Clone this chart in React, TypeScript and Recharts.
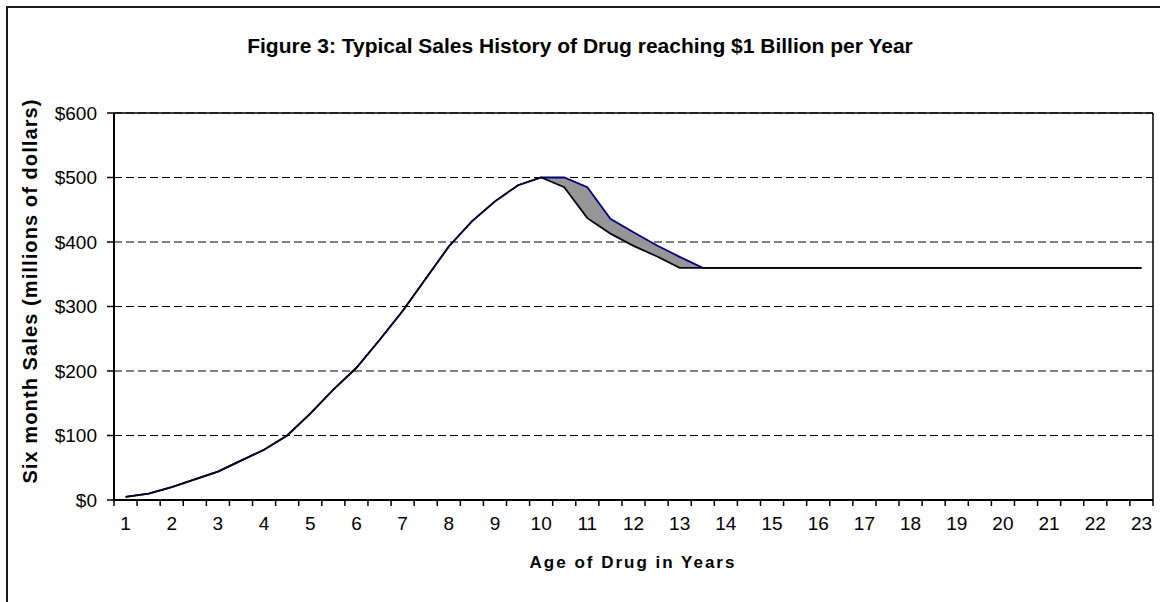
import React from "react";
import { ComposedChart, Area, Line, XAxis, YAxis, CartesianGrid, ReferenceLine } from "recharts";

// age of the drug, in half-year steps
const ages = [
  1, 1.5, 2, 2.5, 3, 3.5, 4, 4.5, 5, 5.5, 6, 6.5, 7, 7.5, 8, 8.5, 9, 9.5, 10,
  10.5, 11, 11.5, 12, 12.5, 13, 13.5, 14, 14.5, 15, 15.5, 16, 16.5, 17, 17.5,
  18, 18.5, 19, 19.5, 20, 20.5, 21, 21.5, 22, 22.5, 23,
];

// six month sales, millions of dollars: lower and upper edge of the post-peak band
const lowSales = [
  5, 10, 20, 32, 44, 61, 78, 100, 134, 171, 205, 248, 293, 343, 393, 432, 463, 488, 500,
  485, 437, 413, 394, 378, 360, 360, 360, 360, 360, 360, 360, 360, 360, 360,
  360, 360, 360, 360, 360, 360, 360, 360, 360, 360, 360,
];
const highSales = [
  5, 10, 20, 32, 44, 61, 78, 100, 134, 171, 205, 248, 293, 343, 393, 432, 463, 488, 500,
  500, 485, 436, 415, 395, 377, 360, 360, 360, 360, 360, 360, 360, 360, 360,
  360, 360, 360, 360, 360, 360, 360, 360, 360, 360, 360,
];

const yearLabels = [1, 2, 3, 4, 5, 6, 7, 8, 9, 10, 11, 12, 13, 14, 15, 16, 17, 18, 19, 20, 21, 22, 23];
const salesTicks = [0, 100, 200, 300, 400, 500, 600];

const data = ages.map((age, i) => ({
  age,
  low: lowSales[i],
  high: highSales[i],
  band: [lowSales[i], highSales[i]],
}));

// tick marks sit on the half-year boundaries, labels on whole years
const boundaryTicks = [...ages.map((a) => a - 0.25), ages[ages.length - 1] + 0.25];
const xTicks = [...boundaryTicks, ...yearLabels].sort((a, b) => a - b);

const FONT = "Arial, 'Liberation Sans', sans-serif";

function AgeTick(props: any) {
  const { x, y, payload } = props;
  const v = payload.value;
  if (Number.isInteger(v)) {
    return (
      <text x={x} y={y + 17} dy="0.71em" textAnchor="middle" fontSize={19} fontFamily={FONT} fill="#000">
        {v}
      </text>
    );
  }
  return <line x1={x} x2={x} y1={y} y2={y + 6} stroke="#000" strokeWidth={1.5} />;
}

export default function App() {
  return (
    <div
      style={{
        position: "absolute",
        left: 0,
        top: 0,
        width: 1160,
        height: 602,
        overflow: "hidden",
        background: "#fff",
        fontFamily: FONT,
      }}
    >
      <div
        style={{
          position: "absolute",
          left: 6,
          top: 6,
          width: 1200,
          height: 700,
          border: "2px solid #1a1a1a",
        }}
      />
      <div
        style={{
          position: "absolute",
          left: 0,
          top: 33,
          width: 1160,
          lineHeight: "26px",
          textAlign: "center",
          fontSize: 21,
          fontWeight: "bold",
        }}
      >
        Figure 3: Typical Sales History of Drug reaching $1 Billion per Year
      </div>
      <div
        style={{
          position: "absolute",
          left: 30 - 240,
          top: 291 - 12,
          width: 480,
          lineHeight: "24px",
          textAlign: "center",
          fontSize: 20,
          fontWeight: "bold",
          letterSpacing: 1.1,
          transform: "rotate(-90deg)",
        }}
      >
        Six month Sales (millions of dollars)
      </div>
      <div
        style={{
          position: "absolute",
          left: 633 - 200,
          top: 551,
          width: 400,
          lineHeight: "24px",
          textAlign: "center",
          fontSize: 17,
          fontWeight: "bold",
          letterSpacing: 2,
        }}
      >
        Age of Drug in Years
      </div>
      <div style={{ position: "absolute", left: 0, top: 0 }}>
        <ComposedChart width={1160} height={602} data={data} margin={{ top: 113, right: 7, bottom: 62, left: 0 }}>
          <CartesianGrid vertical={false} stroke="#000" strokeDasharray="8 4" strokeWidth={1.2} />
          <XAxis
            dataKey="age"
            type="number"
            domain={[0.75, 23.25]}
            ticks={xTicks}
            interval={0}
            tick={AgeTick}
            tickLine={false}
            tickSize={0}
            tickMargin={0}
            height={40}
            axisLine={{ stroke: "#000", strokeWidth: 2 }}
          />
          <YAxis
            domain={[0, 600]}
            ticks={salesTicks}
            interval={0}
            width={114}
            tickSize={7}
            tickMargin={10}
            tickFormatter={(v) => `$${v}`}
            tick={{ fontSize: 19, fontFamily: FONT, fill: "#000" }}
            tickLine={{ stroke: "#000", strokeWidth: 1.5 }}
            axisLine={{ stroke: "#000", strokeWidth: 2 }}
          />
          <ReferenceLine y={600} stroke="#000" strokeWidth={1.5} />
          <ReferenceLine x={23.25} stroke="#000" strokeWidth={1.5} />
          <Area
            type="linear"
            dataKey="band"
            fill="#969696"
            fillOpacity={1}
            stroke="none"
            isAnimationActive={false}
            dot={false}
            activeDot={false}
          />
          <Line
            type="linear"
            dataKey="high"
            stroke="#000080"
            strokeWidth={1.8}
            dot={false}
            activeDot={false}
            isAnimationActive={false}
          />
          <Line
            type="linear"
            dataKey="low"
            stroke="#05051a"
            strokeWidth={1.8}
            dot={false}
            activeDot={false}
            isAnimationActive={false}
          />
        </ComposedChart>
      </div>
    </div>
  );
}
